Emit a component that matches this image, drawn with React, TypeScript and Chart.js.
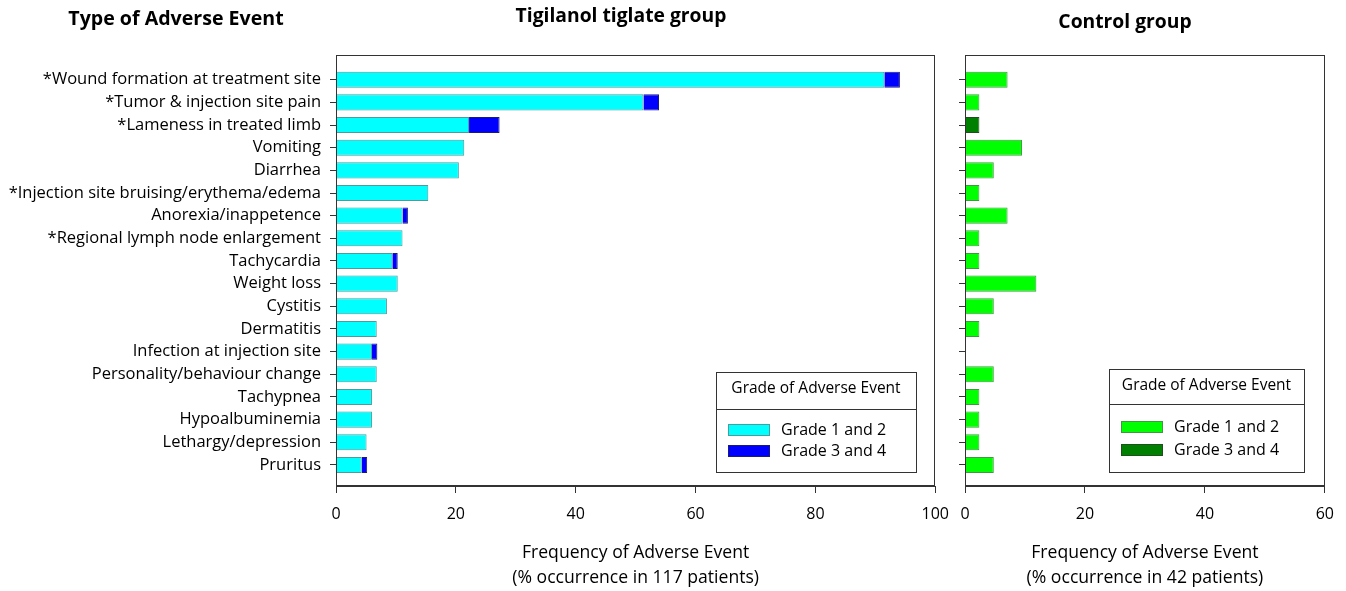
import React, { useEffect, useRef } from "react";
import { Chart, registerables } from "chart.js";

Chart.register(...registerables);

// Adverse event categories, top to bottom
const eventTypes = [
  "*Wound formation at treatment site",
  "*Tumor & injection site pain",
  "*Lameness in treated limb",
  "Vomiting",
  "Diarrhea",
  "*Injection site bruising/erythema/edema",
  "Anorexia/inappetence",
  "*Regional lymph node enlargement",
  "Tachycardia",
  "Weight loss",
  "Cystitis",
  "Dermatitis",
  "Infection at injection site",
  "Personality/behaviour change",
  "Tachypnea",
  "Hypoalbuminemia",
  "Lethargy/depression",
  "Pruritus",
];

// % occurrence, tigilanol tiglate group (n = 117)
const tigilanolGrade12 = [91.5, 51.3, 22.2, 21.4, 20.5, 15.4, 11.1, 11.1, 9.4, 10.3, 8.5, 6.8, 6.0, 6.8, 6.0, 6.0, 5.1, 4.3];
const tigilanolGrade34 = [2.6, 2.6, 5.1, 0, 0, 0, 0.9, 0, 0.9, 0, 0, 0, 0.9, 0, 0, 0, 0, 0.9];

// % occurrence, control group (n = 42)
const controlGrade12 = [7.1, 2.4, 0, 9.5, 4.8, 2.4, 7.1, 2.4, 2.4, 11.9, 4.8, 2.4, 0, 4.8, 2.4, 2.4, 2.4, 4.8];
const controlGrade34 = [0, 0, 2.4, 0, 0, 0, 0, 0, 0, 0, 0, 0, 0, 0, 0, 0, 0, 0];

const tigilanolTicks = [0, 20, 40, 60, 80, 100];
const controlTicks = [0, 20, 40, 60];

const tigilanolAxisTitle = ["Frequency of Adverse Event", "(% occurrence in 117 patients)"];
const controlAxisTitle = ["Frequency of Adverse Event", "(% occurrence in 42 patients)"];

const legendTitle = "Grade of Adverse Event";
const legendLabels = ["Grade 1 and 2", "Grade 3 and 4"];

const FONT = "'Open Sans', Lato, sans-serif";
const AXIS_COLOR = "#333";

type Palette = { fill: string; border: string }[];
const tigilanolPalette: Palette = [
  { fill: "#00ffff", border: "#4f9a9a" },
  { fill: "#0000ff", border: "#1a1a7a" },
];
const controlPalette: Palette = [
  { fill: "#00ff00", border: "#3f9a3f" },
  { fill: "#008000", border: "#1f4f1f" },
];

const toPoints = (values: number[]) =>
  values.map((v, i) => ({ x: v === 0 ? null : v, y: i }));

type LegendBox = {
  x: number; y: number; w: number; h: number; divider: number;
  titleY: number; rowY: number[]; swatchX: number; textX: number;
};

type TitleText = { text: string; x: number; y: number; size: number };

function makeDecorPlugin(titles: TitleText[], legend: LegendBox, palette: Palette) {
  return {
    id: "panelDecor",
    afterDraw(chart: any) {
      const { ctx, chartArea } = chart;
      const { left, top, right, bottom } = chartArea;
      ctx.save();
      // frame around the plotting area
      ctx.strokeStyle = AXIS_COLOR;
      ctx.lineWidth = 1;
      ctx.strokeRect(Math.round(left) + 0.5, Math.round(top) + 0.5, Math.round(right - left) - 1, Math.round(bottom - top) - 1);

      // headings
      ctx.fillStyle = "#000";
      ctx.textAlign = "center";
      ctx.textBaseline = "middle";
      for (const t of titles) {
        ctx.font = `bold ${t.size}px ${FONT}`;
        ctx.fillText(t.text, t.x, t.y);
      }

      // legend box
      ctx.fillStyle = "#fff";
      ctx.fillRect(legend.x, legend.y, legend.w, legend.h);
      ctx.strokeStyle = AXIS_COLOR;
      ctx.strokeRect(legend.x + 0.5, legend.y + 0.5, legend.w, legend.h);
      ctx.beginPath();
      ctx.moveTo(legend.x, legend.divider + 0.5);
      ctx.lineTo(legend.x + legend.w, legend.divider + 0.5);
      ctx.stroke();
      ctx.fillStyle = "#000";
      ctx.font = `15.5px ${FONT}`;
      ctx.textAlign = "center";
      ctx.fillText(legendTitle, legend.x + legend.w / 2, legend.titleY);
      ctx.textAlign = "left";
      ctx.font = `16px ${FONT}`;
      legendLabels.forEach((label, i) => {
        const cy = legend.rowY[i];
        ctx.fillStyle = palette[i].fill;
        ctx.fillRect(legend.swatchX, cy - 6, 42, 12);
        ctx.strokeStyle = palette[i].border;
        ctx.strokeRect(legend.swatchX + 0.5, cy - 5.5, 41, 11);
        ctx.fillStyle = "#000";
        ctx.fillText(label, legend.textX, cy);
      });
      ctx.restore();
    },
  };
}

function buildChart(
  canvas: HTMLCanvasElement,
  grade12: number[],
  grade34: number[],
  palette: Palette,
  ticks: number[],
  axisTitle: string[],
  yAxisWidth: number,
  showLabels: boolean,
  rightPad: number,
  plugin: any
) {
  return new Chart(canvas, {
    type: "bar",
    data: {
      datasets: [
        {
          label: legendLabels[0],
          data: toPoints(grade12) as any,
          backgroundColor: palette[0].fill,
          borderColor: palette[0].border,
          borderWidth: 1,
          categoryPercentage: 1,
          barPercentage: 0.71,
        },
        {
          label: legendLabels[1],
          data: toPoints(grade34) as any,
          backgroundColor: palette[1].fill,
          borderColor: palette[1].border,
          borderWidth: 1,
          categoryPercentage: 1,
          barPercentage: 0.71,
        },
      ],
    },
    options: {
      animation: false,
      responsive: false,
      indexAxis: "y",
      layout: { padding: { top: 55, right: rightPad, left: 0, bottom: 0 } },
      plugins: { legend: { display: false }, tooltip: { enabled: false }, title: { display: false } },
      scales: {
        x: {
          type: "linear",
          stacked: true,
          min: ticks[0],
          max: ticks[ticks.length - 1],
          afterBuildTicks: (s: any) => {
            s.ticks = ticks.map((v) => ({ value: v }));
          },
          afterFit: (s: any) => {
            s.height = 105;
          },
          grid: { drawOnChartArea: false, drawTicks: true, tickLength: 7, color: AXIS_COLOR },
          border: { color: AXIS_COLOR },
          ticks: { font: { family: FONT, size: 16 }, color: "#000", padding: 12, maxRotation: 0, autoSkip: false },
          title: {
            display: true,
            text: axisTitle,
            color: "#000",
            font: { family: FONT, size: 17.6, lineHeight: 25 / 17.6 },
            padding: { top: 0, bottom: 1 },
          },
        },
        y: {
          type: "linear",
          stacked: true,
          reverse: true,
          offset: false,
          min: -1.09,
          max: eventTypes.length - 0.07,
          afterBuildTicks: (s: any) => {
            s.ticks = eventTypes.map((_, i) => ({ value: i }));
          },
          afterFit: (s: any) => {
            s.width = yAxisWidth;
          },
          grid: { drawOnChartArea: false, drawTicks: true, tickLength: 6, color: AXIS_COLOR, offset: false },
          border: { color: AXIS_COLOR },
          ticks: {
            autoSkip: false,
            padding: 9,
            color: "#000",
            font: { family: FONT, size: 16.5 },
            callback: (v: any) => (showLabels ? eventTypes[v] ?? "" : ""),
          },
        },
      },
    } as any,
    plugins: [plugin],
  });
}

export default function App() {
  const leftRef = useRef<HTMLCanvasElement>(null);
  const rightRef = useRef<HTMLCanvasElement>(null);

  useEffect(() => {
    document.body.style.margin = "0";
    if (!leftRef.current || !rightRef.current) return;

    const leftChart = buildChart(
      leftRef.current,
      tigilanolGrade12,
      tigilanolGrade34,
      tigilanolPalette,
      tigilanolTicks,
      tigilanolAxisTitle,
      336,
      true,
      15,
      makeDecorPlugin(
        [
          { text: "Type of Adverse Event", x: 176, y: 19, size: 19.6 },
          { text: "Tigilanol tiglate group", x: 621, y: 17, size: 19.3 },
        ],
        { x: 716, y: 372, w: 200, h: 100, divider: 409, titleY: 389, rowY: [430, 451], swatchX: 728, textX: 781 },
        tigilanolPalette
      )
    );

    const rightChart = buildChart(
      rightRef.current,
      controlGrade12,
      controlGrade34,
      controlPalette,
      controlTicks,
      controlAxisTitle,
      20,
      false,
      21,
      makeDecorPlugin(
        [{ text: "Control group", x: 180, y: 23, size: 19.3 }],
        { x: 164, y: 369, w: 195, h: 103, divider: 404, titleY: 386, rowY: [427, 450], swatchX: 176, textX: 229 },
        controlPalette
      )
    );

    return () => {
      leftChart.destroy();
      rightChart.destroy();
    };
  }, []);

  return (
    <div style={{ position: "relative", width: 1346, height: 591, background: "#fff" }}>
      <canvas ref={leftRef} width={961} height={591} style={{ position: "absolute", left: 0, top: 0 }} />
      <canvas ref={rightRef} width={401} height={591} style={{ position: "absolute", left: 945, top: 0 }} />
    </div>
  );
}
